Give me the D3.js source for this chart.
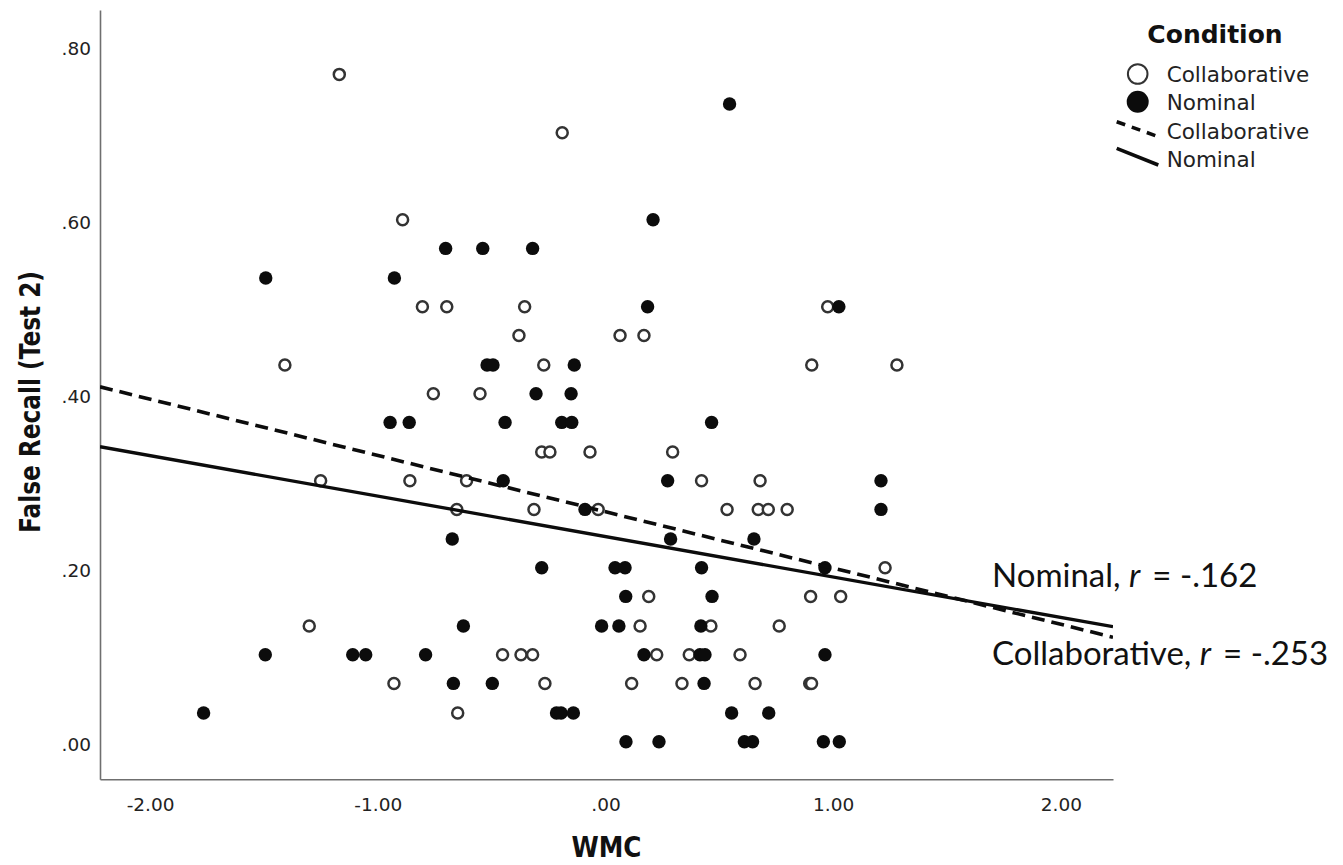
<!DOCTYPE html>
<html>
<head>
<meta charset="utf-8">
<script src="https://cdn.jsdelivr.net/npm/d3@7"></script>
<style>
  html, body { margin: 0; padding: 0; background: #fff; }
  svg { display: block; }
</style>
</head>
<body>
<svg id="chart" width="1343" height="865"></svg>
<script>
// WMC (x) against false recall on test 2 (y), one row per participant
const collaborative = [
  [-1.169, .767], [-0.190, .700], [-0.891, .600],
  [-0.804, .500], [-0.697, .500], [-0.355, .500], [0.976, .500],
  [-0.380, .467], [0.064, .467], [0.169, .467],
  [-1.408, .433], [-0.271, .433], [0.906, .433], [1.280, .433],
  [-0.756, .400], [-0.551, .400],
  [-0.280, .333], [-0.244, .333], [-0.068, .333], [0.295, .333],
  [-1.251, .300], [-0.859, .300], [-0.610, .300], [0.422, .300], [0.679, .300],
  [-0.653, .267], [-0.314, .267], [-0.032, .267], [0.534, .267], [0.671, .267], [0.715, .267], [0.798, .267],
  [1.228, .200],
  [0.190, .167], [0.901, .167], [1.033, .167],
  [-1.301, .133], [0.152, .133], [0.463, .133], [0.763, .133],
  [-0.452, .100], [-0.371, .100], [-0.320, .100], [0.225, .100], [0.368, .100], [0.591, .100],
  [-0.929, .067], [-0.266, .067], [0.115, .067], [0.336, .067], [0.657, .067], [0.897, .067], [0.905, .067],
  [-0.649, .033]
];

const nominal = [
  [0.545, .733], [0.209, .600],
  [-0.702, .567], [-0.539, .567], [-0.320, .567],
  [-1.492, .533], [-0.927, .533],
  [0.185, .500], [1.025, .500],
  [-0.520, .433], [-0.494, .433], [-0.137, .433],
  [-0.305, .400], [-0.151, .400],
  [-0.946, .367], [-0.862, .367], [-0.441, .367], [-0.192, .367], [-0.148, .367], [0.466, .367],
  [-0.449, .300], [0.273, .300], [1.210, .300],
  [-0.090, .267], [1.210, .267],
  [-0.673, .233], [0.286, .233], [0.652, .233],
  [-0.280, .200], [0.042, .200], [0.086, .200], [0.422, .200], [0.964, .200],
  [0.089, .167], [0.468, .167],
  [-0.624, .133], [-0.017, .133], [0.059, .133], [0.419, .133],
  [-1.494, .100], [-1.110, .100], [-1.053, .100], [-0.790, .100], [0.169, .100], [0.415, .100], [0.437, .100], [0.964, .100],
  [-0.668, .067], [-0.497, .067], [0.433, .067],
  [-1.765, .033], [-0.215, .033], [-0.195, .033], [-0.141, .033], [0.554, .033], [0.717, .033],
  [0.090, .000], [0.235, .000], [0.610, .000], [0.646, .000], [0.957, .000], [1.027, .000]
];

// Linear fit lines: [intercept, slope]
const fitCollaborative = [0.2643, -0.0647];
const fitNominal = [0.2358, -0.0465];
const rLabels = ["-.162", "-.253"]; // Nominal, Collaborative

const xTicks = [-2, -1, 0, 1, 2];
const xTickLabels = ["-2.00", "-1.00", ".00", "1.00", "2.00"];
const yTicks = [0, .2, .4, .6, .8];
const yTickLabels = [".00", ".20", ".40", ".60", ".80"];

const svg = d3.select("#chart");

const x = d3.scaleLinear().domain([-2.22, 2.229]).range([100, 1113]);
const y = d3.scaleLinear().domain([-0.0432, 0.841]).range([779.3, 10]);

const tickFont = "'DejaVu Sans', sans-serif";
const titleFont = "'DejaVu Sans', sans-serif";

// axes
const xAxis = svg.append("g")
  .attr("transform", `translate(0,${y.range()[0]})`)
  .call(d3.axisBottom(x).tickValues(xTicks).tickSize(0).tickPadding(19)
    .tickFormat((d, i) => xTickLabels[i]));
const yAxis = svg.append("g")
  .attr("transform", `translate(${x.range()[0]},0)`)
  .call(d3.axisLeft(y).tickValues(yTicks).tickSize(0).tickPadding(9)
    .tickFormat((d, i) => yTickLabels[i]));

[xAxis, yAxis].forEach(g => {
  g.select(".domain").attr("stroke", "#6f6f6f").attr("stroke-width", 1.6);
  g.selectAll("text")
    .attr("font-family", tickFont)
    .attr("font-size", 18.5)
    .attr("fill", "#222");
});
yAxis.selectAll("text").attr("dy", "0.5em");

// axis titles (condensed bold)
svg.append("text")
  .attr("x", (x.range()[0] + x.range()[1]) / 2)
  .attr("y", 857)
  .attr("text-anchor", "middle")
  .attr("font-family", titleFont)
  .attr("font-weight", "bold")
  .attr("font-size", 29)
  .attr("textLength", 70)
  .attr("lengthAdjust", "spacingAndGlyphs")
  .attr("fill", "#111")
  .text("WMC");

svg.append("text")
  .attr("transform", "translate(40,402) rotate(-90)")
  .attr("text-anchor", "middle")
  .attr("font-family", titleFont)
  .attr("font-weight", "bold")
  .attr("font-size", 28)
  .attr("textLength", 262)
  .attr("lengthAdjust", "spacingAndGlyphs")
  .attr("fill", "#111")
  .text("False Recall (Test 2)");

// plot area clip for the fit lines
svg.append("clipPath").attr("id", "plotClip")
  .append("rect")
  .attr("x", x.range()[0]).attr("y", y.range()[1])
  .attr("width", x.range()[1] - x.range()[0])
  .attr("height", y.range()[0] - y.range()[1]);

// points
const pts = svg.append("g");
pts.selectAll("circle.collab")
  .data(collaborative)
  .join("circle")
  .attr("class", "collab")
  .attr("cx", d => x(d[0]))
  .attr("cy", d => y(d[1]))
  .attr("r", 5.5)
  .attr("fill", "#fff")
  .attr("stroke", "#333")
  .attr("stroke-width", 2.5);

pts.selectAll("circle.nom")
  .data(nominal)
  .join("circle")
  .attr("class", "nom")
  .attr("cx", d => x(d[0]))
  .attr("cy", d => y(d[1]))
  .attr("r", 6.7)
  .attr("fill", "#0c0c0c");

// fit lines
const line = d3.line().x(d => x(d[0])).y(d => y(d[1]));
const fitPoints = f => x.domain().map(v => [v, f[0] + f[1] * v]);

const lines = svg.append("g").attr("clip-path", "url(#plotClip)");
lines.append("path")
  .attr("d", line(fitPoints(fitNominal)))
  .attr("fill", "none")
  .attr("stroke", "#0c0c0c")
  .attr("stroke-width", 3.3);
lines.append("path")
  .attr("d", line(fitPoints(fitCollaborative)))
  .attr("fill", "none")
  .attr("stroke", "#0c0c0c")
  .attr("stroke-width", 3.6)
  .attr("stroke-dasharray", "13,7");

// r annotations
const annFont = "Lato, 'Open Sans', sans-serif";
function annotate(name, r, baseline) {
  const t = svg.append("text")
    .attr("x", 992)
    .attr("y", baseline)
    .attr("font-family", annFont)
    .attr("font-size", 33)
    .attr("fill", "#111");
  t.append("tspan").text(name + ", ");
  t.append("tspan").attr("font-style", "italic").text("r");
  t.append("tspan").attr("dx", 12).text("= " + r);
}
annotate("Nominal", rLabels[0], 587);
annotate("Collaborative", rLabels[1], 665);

// legend
const legend = svg.append("g");
legend.append("text")
  .attr("x", 1215).attr("y", 43.3)
  .attr("text-anchor", "middle")
  .attr("font-family", tickFont)
  .attr("font-weight", "bold")
  .attr("font-size", 25)
  .attr("fill", "#111")
  .text("Condition");

const legendItems = [
  { label: "Collaborative", kind: "open", cy: 74 },
  { label: "Nominal", kind: "filled", cy: 101.7 },
  { label: "Collaborative", kind: "dash", cy: 129.2 },
  { label: "Nominal", kind: "solid", cy: 156.7 }
];
const baselines = [82, 110, 138.5, 167];

legendItems.forEach((it, i) => {
  if (it.kind === "open") {
    legend.append("circle").attr("cx", 1137.7).attr("cy", it.cy).attr("r", 9.8)
      .attr("fill", "#fff").attr("stroke", "#333").attr("stroke-width", 2);
  } else if (it.kind === "filled") {
    legend.append("circle").attr("cx", 1137.7).attr("cy", it.cy).attr("r", 11)
      .attr("fill", "#0c0c0c");
  } else {
    legend.append("line")
      .attr("x1", 1116.7).attr("x2", 1158.3)
      .attr("y1", it.cy - (it.kind === "dash" ? 7.5 : 8.3))
      .attr("y2", it.cy + (it.kind === "dash" ? 7.5 : 8.3))
      .attr("stroke", "#0c0c0c")
      .attr("stroke-width", 3.6)
      .attr("stroke-dasharray", it.kind === "dash" ? "9,7" : null);
  }
  legend.append("text")
    .attr("x", 1166.7).attr("y", baselines[i])
    .attr("font-family", tickFont)
    .attr("font-size", 21.5)
    .attr("fill", "#222")
    .text(it.label);
});
</script>
</body>
</html>
